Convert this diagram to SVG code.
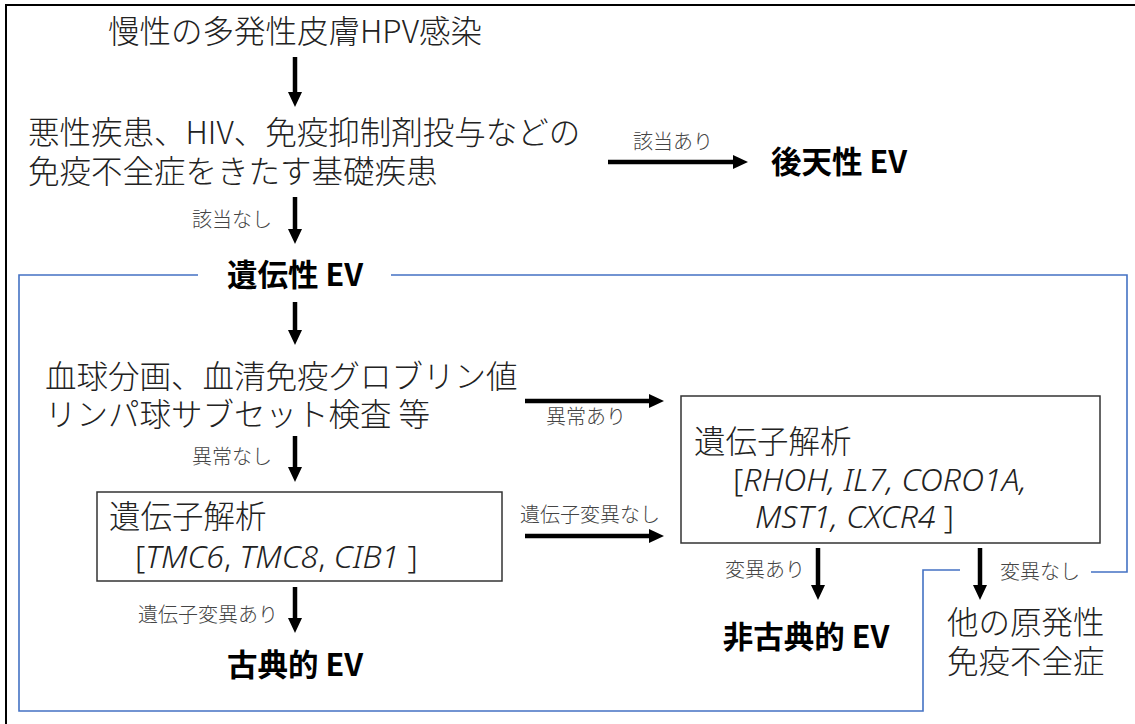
<svg xmlns="http://www.w3.org/2000/svg" width="1135" height="724" viewBox="0 0 1135 724">
<defs>
<style>
.t{font-family:"Noto Sans CJK JP","Noto Sans",sans-serif;font-size:31.5px;font-weight:300;fill:#222}
.b{font-family:"Noto Sans CJK JP","Noto Sans",sans-serif;font-size:30.5px;font-weight:700;fill:#000}
.s{font-family:"Noto Sans CJK JP",sans-serif;font-size:20px;font-weight:300;fill:#444}
.g{font-family:"Noto Sans","Noto Sans CJK JP",sans-serif;font-size:32px;font-weight:300;fill:#222}
.i{font-style:italic}
.box{fill:#fff;stroke:#333;stroke-width:1.5}
.ar{stroke:#000;stroke-width:4.5;fill:none;marker-end:url(#ah)}
.blue{stroke:#4472C4;stroke-width:1.6;fill:none}
</style>
<marker id="ah" markerUnits="userSpaceOnUse" markerWidth="16" markerHeight="16" viewBox="0 -8 16 16" refX="1" refY="0" orient="auto">
<path d="M0,-7 L15,0 L0,7 z" fill="#000"/>
</marker>
</defs>
<rect x="6" y="5" width="1140" height="730" fill="#fff" stroke="#000" stroke-width="2"/>
<g id="frame-blue">
<path class="blue" d="M198,275 H19 V711 H923 V570 H960"/>
<path class="blue" d="M391,275 H1127 V572 H1091"/>
</g>
<g id="connectors">
<line class="ar" x1="295" y1="57" x2="295" y2="93"/>
<line class="ar" x1="608" y1="162" x2="734" y2="162"/>
<line class="ar" x1="295" y1="197" x2="295" y2="230"/>
<line class="ar" x1="295" y1="302" x2="295" y2="331"/>
<line class="ar" x1="525" y1="401" x2="650" y2="401"/>
<line class="ar" x1="295" y1="436" x2="295" y2="468"/>
<line class="ar" x1="525" y1="536" x2="650" y2="536"/>
<line class="ar" x1="295" y1="587" x2="295" y2="619"/>
<line class="ar" x1="818" y1="548" x2="818" y2="586"/>
<line class="ar" x1="980" y1="548" x2="980" y2="586"/>
<text class="s" x="633" y="149">該当あり</text>
<text class="s" x="272" y="227" text-anchor="end">該当なし</text>
<text class="s" x="546" y="424">異常あり</text>
<text class="s" x="520" y="522">遺伝子変異なし</text>
<text class="s" x="272" y="464" text-anchor="end">異常なし</text>
<text class="s" x="278" y="622" text-anchor="end">遺伝子変異あり</text>
<text class="s" x="805" y="577" text-anchor="end">変異あり</text>
<text class="s" x="1000" y="579">変異なし</text>
</g>
<g id="n-start"><text class="t" x="295" y="43" text-anchor="middle">慢性の多発性皮膚HPV感染</text></g>
<g id="n-underlying">
<text class="t" x="28" y="144">悪性疾患、HIV、免疫抑制剤投与などの</text>
<text class="t" x="28" y="183">免疫不全症をきたす基礎疾患</text>
</g>
<g id="n-acquired"><text class="b" x="771" y="173">後天性 EV</text></g>
<g id="n-hereditary"><text class="b" x="295" y="286" text-anchor="middle">遺伝性 EV</text></g>
<g id="n-tests">
<text class="t" x="45" y="388">血球分画、血清免疫グロブリン値</text>
<text class="t" x="45" y="426">リンパ球サブセット検査 等</text>
</g>
<g id="n-gene1">
<rect class="box" x="97" y="492" width="405" height="89"/>
<text class="t" x="109" y="528">遺伝子解析</text>
<text class="g" x="135" y="568">[<tspan class="i">TMC6</tspan>, <tspan class="i">TMC8</tspan>, <tspan class="i">CIB1</tspan> ]</text>
</g>
<g id="n-gene2">
<rect class="box" x="681" y="396" width="419" height="147"/>
<text class="t" x="694" y="453">遺伝子解析</text>
<text class="g" x="733" y="491">[<tspan class="i">RHOH, IL7, CORO1A,</tspan></text>
<text class="g i" x="755" y="528">MST1, CXCR4 <tspan font-style="normal">]</tspan></text>
</g>
<g id="n-classic"><text class="b" x="295" y="676" text-anchor="middle">古典的 EV</text></g>
<g id="n-nonclassic"><text class="b" x="806" y="648" text-anchor="middle">非古典的 EV</text></g>
<g id="n-other">
<text class="t" x="947" y="634">他の原発性</text>
<text class="t" x="947" y="673">免疫不全症</text>
</g>
</svg>
